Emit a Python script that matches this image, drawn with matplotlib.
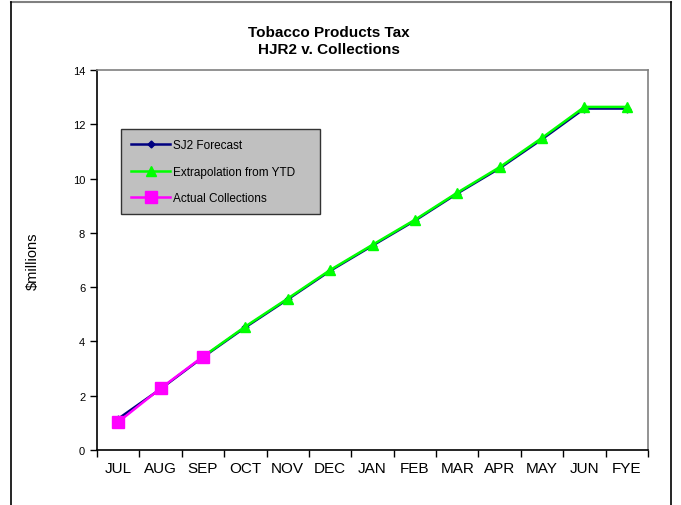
import numpy as np
import matplotlib
matplotlib.use("Agg")
import matplotlib.pyplot as plt
from matplotlib.lines import Line2D

months = ["JUL", "AUG", "SEP", "OCT", "NOV", "DEC", "JAN", "FEB", "MAR", "APR", "MAY", "JUN", "FYE"]
sj2_forecast = [1.15, 2.25, 3.42, 4.52, 5.55, 6.6, 7.53, 8.45, 9.45, 10.38, 11.45, 12.58, 12.58]
extrapolation = [np.nan, np.nan, 3.44, 4.55, 5.58, 6.63, 7.56, 8.48, 9.48, 10.42, 11.5, 12.64, 12.64]
actual = [1.03, 2.27, 3.44]

FONT = "Liberation Sans"

fig = plt.figure(figsize=(6.81, 5.06), dpi=100)
fig.patch.set_facecolor("white")
ax = fig.add_axes([97/681, 55/506, 551/681, 380/506])

x = np.arange(len(months))
ax.plot(x, sj2_forecast, color="#000080", lw=1.8, marker="D", ms=3.5, label="SJ2 Forecast", zorder=3)
ax.plot(x, extrapolation, color="#00ff00", lw=1.8, marker="^", ms=7, label="Extrapolation from YTD", zorder=4)
ax.plot(x[:len(actual)], actual, color="#ff00ff", lw=1.8, marker="s", ms=8, label="Actual Collections", zorder=5)

ax.set_xlim(-0.5, len(months) - 0.5)
ax.set_ylim(0, 14)
ax.set_yticks(np.arange(0, 15, 2))
ax.set_xticks(x)
ax.set_xticklabels(months, fontsize=11, family=FONT)
ax.set_xticks(np.arange(-0.5, len(months), 1), minor=True)
ax.tick_params(axis="x", which="major", length=0, pad=8)
ax.tick_params(axis="x", which="minor", length=5, width=1, direction="out", color="black")
ax.tick_params(axis="y", length=5, width=1, direction="out", labelsize=8, pad=3.5)
for lab in ax.get_yticklabels():
    lab.set_family(FONT)

ax.spines["left"].set_color("black")
ax.spines["bottom"].set_color("black")
ax.spines["top"].set_color("#808080")
ax.spines["right"].set_color("#808080")
for s in ax.spines.values():
    s.set_linewidth(1.2)

ax.set_ylabel("$millions", fontsize=10.5, family=FONT)
ax.yaxis.set_label_coords(-0.103, 0.5)

leg = ax.legend(loc="upper left", bbox_to_anchor=(0.0436, 0.629, 0.361, 0.216), mode="expand",
                prop={"family": FONT, "size": 8.5},
                fancybox=False, framealpha=1, facecolor="#c0c0c0", edgecolor="#333333",
                borderpad=0.85, labelspacing=1.25, handlelength=3.3, handletextpad=0.25,
                borderaxespad=0)
leg.get_frame().set_linewidth(1.0)
leg.set_zorder(10)

fig.text(329/681, 1 - 33/506, "Tobacco Products Tax", ha="center", va="center",
         fontsize=11, fontweight="bold", family=FONT)
fig.text(329/681, 1 - 50/506, "HJR2 v. Collections", ha="center", va="center",
         fontsize=11, fontweight="bold", family=FONT)

# outer border of chart area
fig.add_artist(Line2D([11/681, 671/681], [1 - 3/506, 1 - 3/506], color="#808080", lw=1.5, transform=fig.transFigure))
fig.add_artist(Line2D([11/681, 11/681], [0, 1 - 3/506], color="black", lw=1.2, transform=fig.transFigure))
fig.add_artist(Line2D([671/681, 671/681], [0, 1 - 3/506], color="black", lw=1.2, transform=fig.transFigure))

fig.savefig("out.png", dpi=100)
